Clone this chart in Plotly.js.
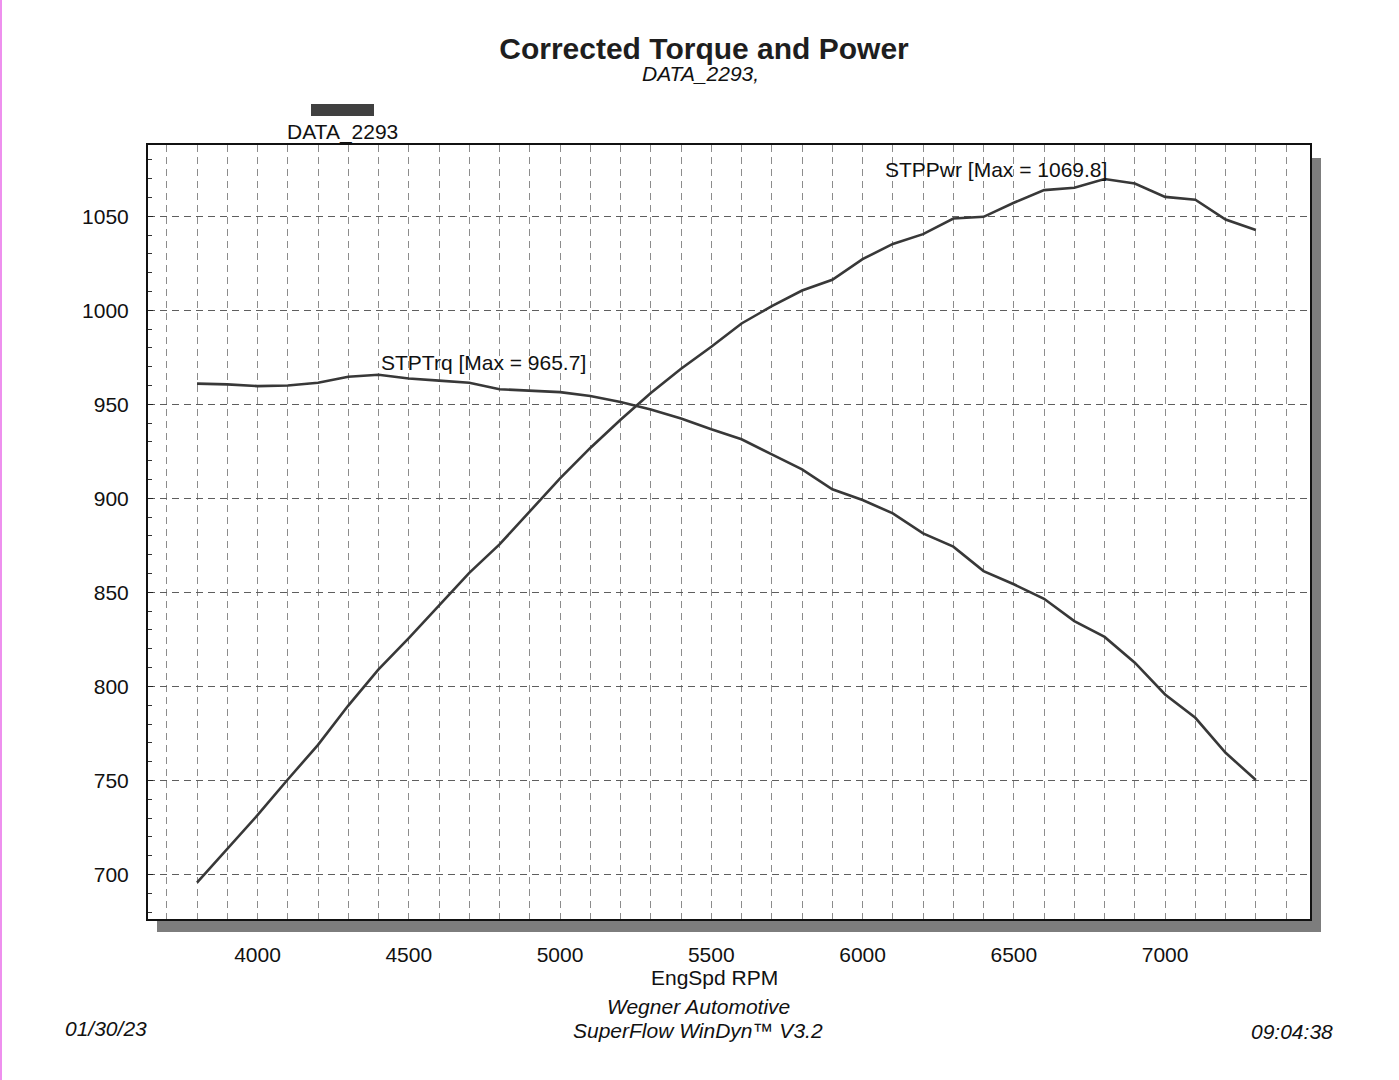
<!DOCTYPE html>
<html>
<head>
<meta charset="utf-8">
<script src="https://cdn.plot.ly/plotly-3.0.1.min.js"></script>
<style>
  html, body { margin: 0; padding: 0; background: #ffffff; }
  #chart { width: 1399px; height: 1080px; }
</style>
</head>
<body>
<div id="chart"></div>
<script>
// Engine speed, RPM
const engSpd = [3800, 3900, 4000, 4100, 4200, 4300, 4400, 4500, 4600, 4700, 4800, 4900,
                5000, 5100, 5200, 5300, 5400, 5500, 5600, 5700, 5800, 5900, 6000, 6100,
                6200, 6300, 6400, 6500, 6600, 6700, 6800, 6900, 7000, 7100, 7200, 7300];

// Corrected torque (lb-ft)
const stpTrq = [961.0, 960.6, 959.7, 960.0, 961.5, 964.7, 965.7, 963.7, 962.6, 961.5, 958.0, 957.2,
                956.5, 954.4, 951.2, 947.3, 942.4, 936.7, 931.4, 923.4, 915.4, 904.8, 899.1, 892.0,
                881.4, 874.3, 861.3, 854.3, 846.6, 834.7, 826.3, 812.6, 795.7, 783.3, 764.7, 750.2];

// Corrected power (hp)
const stpPwr = [695.6, 713.5, 731.5, 750.5, 768.9, 789.8, 809.0, 825.7, 843.1, 860.4, 875.5, 893.0,
                910.6, 926.8, 941.8, 956.0, 968.9, 980.6, 993.0, 1002.2, 1010.5, 1016.2, 1027.2, 1035.3,
                1040.5, 1048.8, 1049.7, 1057.2, 1063.9, 1065.2, 1069.8, 1067.4, 1060.3, 1058.8, 1048.3, 1042.7];

const yTicks = [700, 750, 800, 850, 900, 950, 1000, 1050];
const xTicks = [4000, 4500, 5000, 5500, 6000, 6500, 7000];

const runName = 'DATA_2293';
const xTitle = 'EngSpd RPM';
const dateText = '01/30/23';
const timeText = '09:04:38';

// Frame geometry in pixels
const W = 1399, H = 1080;
const L = 148, R = 1310, T = 145, B = 919;
const px = x => (x - L) / (R - L);
const py = y => (B - y) / (B - T);

const FONT = 'Liberation Sans, Arial, sans-serif';
const INK = '#111111';
const LINE = '#383838';

function maxInfo(xs, ys) {
  let k = 0;
  ys.forEach((v, i) => { if (v > ys[k]) k = i; });
  return { x: xs[k], y: ys[k] };
}
const trqMax = maxInfo(engSpd, stpTrq);
const pwrMax = maxInfo(engSpd, stpPwr);

const traces = [
  { x: engSpd, y: stpTrq, name: 'STPTrq', type: 'scatter', mode: 'lines',
    line: { color: LINE, width: 2.6 }, showlegend: false, hoverinfo: 'x+y+name' },
  { x: engSpd, y: stpPwr, name: 'STPPwr', type: 'scatter', mode: 'lines',
    line: { color: LINE, width: 2.6 }, showlegend: false, hoverinfo: 'x+y+name' }
];

const shapes = [
  // drop shadow behind the plot frame
  { type: 'rect', xref: 'paper', yref: 'paper', layer: 'below',
    x0: px(157), x1: px(1321), y0: py(932), y1: py(158),
    fillcolor: '#7d7d7d', line: { width: 0 } },
  // white plot face
  { type: 'rect', xref: 'paper', yref: 'paper', layer: 'below',
    x0: 0, x1: 1, y0: 0, y1: 1,
    fillcolor: '#ffffff', line: { width: 0 } },
  // legend swatch
  { type: 'rect', xref: 'paper', yref: 'paper',
    x0: px(311), x1: px(374), y0: py(116), y1: py(104),
    fillcolor: '#404040', line: { width: 0 } },
  // margin strip on the left edge
  { type: 'rect', xref: 'paper', yref: 'paper',
    x0: px(0), x1: px(2), y0: py(H), y1: py(0),
    fillcolor: '#ee90ee', line: { width: 0 } }
];

const txt = (text, x, y, opts = {}) => Object.assign({
  text, xref: 'paper', yref: 'paper', x: px(x), y: py(y),
  xanchor: 'center', yanchor: 'middle', showarrow: false,
  font: { family: FONT, size: 21, color: INK }
}, opts);

const italic = { family: FONT, size: 21, color: INK, style: 'italic' };

const annotations = [
  txt(runName + ',', 700, 73, { font: italic }),
  txt(runName, 342, 132),
  txt(xTitle, 714, 977),
  { text: 'STPTrq [Max = ' + trqMax.y.toFixed(1) + ']', x: trqMax.x, y: trqMax.y,
    xref: 'x', yref: 'y', xanchor: 'left', yanchor: 'middle', xshift: 0, yshift: 12,
    showarrow: false, font: { family: FONT, size: 21, color: INK } },
  { text: 'STPPwr [Max = ' + pwrMax.y.toFixed(1) + ']', x: pwrMax.x, y: pwrMax.y,
    xref: 'x', yref: 'y', xanchor: 'right', yanchor: 'middle', xshift: 4, yshift: 10,
    showarrow: false, font: { family: FONT, size: 21, color: INK } },
  txt('Wegner Automotive', 698, 1007, { font: italic }),
  txt('SuperFlow WinDyn\u2122 V3.2', 698, 1030, { font: italic }),
  txt(dateText, 63, 1028, { xanchor: 'left', font: italic }),
  txt(timeText, 1335, 1031, { xanchor: 'right', font: italic })
];

const layout = {
  width: W, height: H,
  margin: { l: L, r: W - R, t: T, b: H - B, pad: 0 },
  paper_bgcolor: '#ffffff',
  plot_bgcolor: 'rgba(0,0,0,0)',
  font: { family: FONT, size: 21, color: INK },
  title: {
    text: '<b>Corrected Torque and Power</b>',
    font: { family: FONT, size: 30, color: '#1e1e1e' },
    x: 704 / W, xanchor: 'center', xref: 'container',
    y: 1 - 48 / H, yanchor: 'middle', yref: 'container'
  },
  xaxis: {
    range: [3638, 7479],
    tickvals: xTicks, ticktext: xTicks.map(String),
    ticks: '', ticklabelstandoff: 16,
    showgrid: true, gridcolor: '#8c8c8c', gridwidth: 1, griddash: '7px,5px',
    minor: { dtick: 100, tick0: 3800, showgrid: true, gridcolor: '#8c8c8c', gridwidth: 1, griddash: '7px,5px' },
    showline: true, mirror: true, linecolor: '#111111', linewidth: 2,
    zeroline: false,
    tickfont: { family: FONT, size: 21, color: INK }
  },
  yaxis: {
    range: [676.3, 1087.9],
    tickvals: yTicks, ticktext: yTicks.map(String),
    ticks: 'inside', ticklen: 5, tickcolor: '#222222',
    ticklabelstandoff: 13,
    showgrid: true, gridcolor: '#5e5e5e', gridwidth: 1, griddash: '7px,5px',
    minor: { dtick: 10, tick0: 700, ticks: 'inside', ticklen: 4, tickcolor: '#333333', showgrid: false },
    showline: true, mirror: true, linecolor: '#111111', linewidth: 2,
    zeroline: false,
    tickfont: { family: FONT, size: 21, color: INK }
  },
  shapes, annotations,
  showlegend: false
};

Plotly.newPlot('chart', traces, layout, { displayModeBar: false, staticPlot: true });
</script>
</body>
</html>
